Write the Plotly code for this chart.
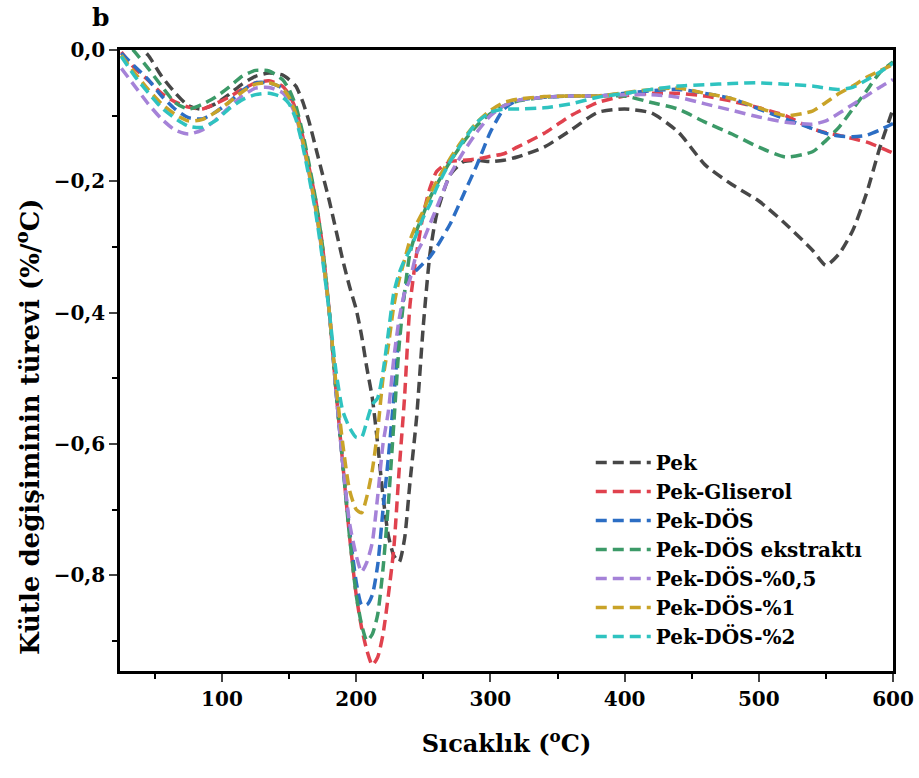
import plotly.graph_objects as go

temps = [25, 35, 45, 55, 65, 75, 85, 95, 105, 115, 125, 135, 145, 150, 155, 160, 165, 170,
         175, 180, 185, 190, 195, 200, 204, 208, 212, 216, 220, 224, 228, 232, 236, 240, 245,
         250, 255, 260, 270, 280, 290, 300, 310, 320, 340, 360, 380, 400, 420, 440, 460, 480,
         500, 520, 540, 550, 560, 570, 580, 590, 600]

pek = [0.03, 0.012, -0.008, -0.04, -0.065, -0.085, -0.09, -0.082, -0.068, -0.052, -0.04, -0.035,
       -0.038, -0.045, -0.055, -0.078, -0.11, -0.15, -0.19, -0.23, -0.275, -0.32, -0.36, -0.395,
       -0.435, -0.485, -0.53, -0.6, -0.68, -0.74, -0.77, -0.78, -0.745, -0.66, -0.56, -0.42, -0.31,
       -0.25, -0.19, -0.17, -0.168, -0.17, -0.168, -0.163, -0.148, -0.122, -0.095, -0.09, -0.096,
       -0.125, -0.175, -0.205, -0.23, -0.265, -0.305, -0.328, -0.31, -0.275, -0.22, -0.15, -0.09]

gliserol = [-0.003, -0.028, -0.046, -0.066, -0.079, -0.087, -0.09, -0.082, -0.072, -0.06, -0.05,
            -0.047, -0.055, -0.068, -0.09, -0.13, -0.18, -0.23, -0.3, -0.4, -0.52, -0.63, -0.74,
            -0.83, -0.88, -0.915, -0.937, -0.925, -0.89, -0.83, -0.76, -0.64, -0.53, -0.39, -0.31,
            -0.25, -0.21, -0.185, -0.17, -0.168, -0.166, -0.162, -0.158, -0.148, -0.127, -0.1,
            -0.08, -0.07, -0.066, -0.066, -0.07, -0.078, -0.088, -0.1, -0.12, -0.126, -0.13,
            -0.135, -0.14, -0.148, -0.157]

dos = [-0.005, -0.025, -0.045, -0.07, -0.09, -0.103, -0.105, -0.095, -0.08, -0.062, -0.05, -0.05,
       -0.058, -0.07, -0.095, -0.135, -0.185, -0.24, -0.31, -0.4, -0.52, -0.63, -0.73, -0.81,
       -0.845, -0.845, -0.83, -0.785, -0.7, -0.62, -0.53, -0.43, -0.37, -0.345, -0.335, -0.325,
       -0.315, -0.3, -0.265, -0.22, -0.175, -0.125, -0.09, -0.077, -0.072, -0.07, -0.07, -0.066,
       -0.062, -0.06, -0.066, -0.074, -0.09, -0.105, -0.12, -0.127, -0.131, -0.132, -0.13,
       -0.122, -0.112]

ekstrakt = [0.02, -0.003, -0.028, -0.055, -0.08, -0.09, -0.083, -0.072, -0.057, -0.04, -0.031,
            -0.032, -0.045, -0.06, -0.085, -0.125, -0.175, -0.23, -0.3, -0.4, -0.52, -0.63, -0.74,
            -0.83, -0.875, -0.9, -0.89, -0.86, -0.79, -0.69, -0.57, -0.45, -0.37, -0.31, -0.275,
            -0.25, -0.225, -0.205, -0.17, -0.14, -0.115, -0.097, -0.085, -0.078, -0.072, -0.07,
            -0.07, -0.07, -0.08, -0.09, -0.11, -0.128, -0.148, -0.163, -0.155, -0.138, -0.117,
            -0.09, -0.063, -0.035, -0.018]

dos_05 = [-0.028, -0.055, -0.082, -0.105, -0.122, -0.128, -0.122, -0.107, -0.088, -0.07, -0.058,
          -0.057, -0.065, -0.078, -0.1, -0.14, -0.19, -0.245, -0.315, -0.4, -0.52, -0.63, -0.72,
          -0.77, -0.795, -0.78, -0.75, -0.68, -0.6, -0.55, -0.47, -0.41, -0.37, -0.35, -0.31,
          -0.29, -0.265, -0.24, -0.19, -0.155, -0.125, -0.1, -0.085, -0.077, -0.072, -0.07, -0.07,
          -0.068, -0.068, -0.072, -0.082, -0.092, -0.102, -0.11, -0.113, -0.108, -0.096, -0.083,
          -0.07, -0.057, -0.045]

dos_1 = [-0.008, -0.035, -0.06, -0.082, -0.098, -0.108, -0.106, -0.095, -0.08, -0.064, -0.052,
         -0.05, -0.058, -0.072, -0.097, -0.137, -0.187, -0.243, -0.312, -0.4, -0.51, -0.6, -0.67,
         -0.7, -0.705, -0.68, -0.64, -0.58, -0.5, -0.45, -0.39, -0.35, -0.32, -0.29, -0.265,
         -0.245, -0.22, -0.2, -0.165, -0.135, -0.11, -0.092, -0.08, -0.075, -0.071, -0.07, -0.07,
         -0.065, -0.06, -0.058, -0.066, -0.074, -0.088, -0.1, -0.093, -0.08, -0.066, -0.055,
         -0.042, -0.032, -0.022]

dos_2 = [-0.01, -0.04, -0.065, -0.088, -0.104, -0.116, -0.118, -0.108, -0.09, -0.076, -0.068,
         -0.066, -0.072, -0.082, -0.105, -0.145, -0.195, -0.25, -0.32, -0.4, -0.49, -0.55, -0.575,
         -0.59, -0.59, -0.565, -0.54, -0.53, -0.49, -0.43, -0.37, -0.34, -0.32, -0.305, -0.28,
         -0.255, -0.235, -0.21, -0.17, -0.138, -0.11, -0.095, -0.09, -0.09, -0.088, -0.082,
         -0.072, -0.066, -0.06, -0.055, -0.053, -0.051, -0.05, -0.052, -0.055, -0.058, -0.06,
         -0.057, -0.046, -0.034, -0.02]

names = ["Pek", "Pek-Gliserol", "Pek-DÖS", "Pek-DÖS ekstraktı", "Pek-DÖS-%0,5", "Pek-DÖS-%1", "Pek-DÖS-%2"]
series = [pek, gliserol, dos, ekstrakt, dos_05, dos_1, dos_2]
colors = ["#474747", "#e0424e", "#2c6ec4", "#3c9a68", "#a582d8", "#c9a328", "#2fc3c0"]

x_ticks = [100, 200, 300, 400, 500, 600]
y_ticks = [0.0, -0.2, -0.4, -0.6, -0.8]

FONT = "DejaVu Serif, Liberation Serif, serif"
L, R, T, B = 120, 26, 50, 107
W, H = 919, 778
PW, PH = W - L - R, H - T - B


def px_to_paper(px, py):
    return (px - L) / PW, (H - B - py) / PH


fig = go.Figure()
for name, ys, col in zip(names, series, colors):
    fig.add_trace(go.Scatter(
        x=temps, y=ys, mode="lines", name=name,
        line=dict(color=col, width=3.5, dash="11px,6px", shape="spline", smoothing=0.6),
    ))

bx, by = px_to_paper(100, 18)
yx, yy = px_to_paper(28, 427)

fig.update_layout(
    width=W, height=H,
    margin=dict(l=L, r=R, t=T, b=B, autoexpand=False),
    plot_bgcolor="white", paper_bgcolor="white",
    separators=",.",
    font=dict(family=FONT, color="black"),
    legend=dict(
        x=0.609, y=0.367, xanchor="left", yanchor="top",
        bgcolor="rgba(0,0,0,0)",
        font=dict(family=FONT, size=20, color="black", weight="bold"),
        itemwidth=55, tracegroupgap=0,
    ),
    annotations=[
        dict(text="<b>b</b>", x=bx, y=by, xref="paper", yref="paper",
             xanchor="center", yanchor="middle", showarrow=False,
             font=dict(family=FONT, size=25, color="black")),
        dict(text="<b>Kütle değişiminin türevi (%/<sup>o</sup>C)</b>", x=yx, y=yy,
             xref="paper", yref="paper", xanchor="center", yanchor="middle",
             textangle=-90, showarrow=False,
             font=dict(family=FONT, size=26, color="black")),
    ],
)

fig.update_xaxes(
    range=[24, 600], tickvals=x_ticks, ticks="outside", ticklen=8, tickwidth=2,
    minor=dict(dtick=50, tick0=0, ticks="outside", ticklen=5, tickwidth=2, tickcolor="black"),
    showline=True, linewidth=2.5, linecolor="black", mirror=True,
    showgrid=False, zeroline=False, automargin=False,
    tickfont=dict(family=FONT, size=20, color="black", weight="bold"),
    title=dict(text="Sıcaklık (<sup>o</sup>C)", standoff=26,
               font=dict(family=FONT, size=24, color="black", weight="bold")),
)
fig.update_yaxes(
    range=[-0.946, 0], tickvals=y_ticks, tickformat=".1f", ticks="outside", ticklen=8, tickwidth=2,
    minor=dict(dtick=0.1, tick0=0, ticks="outside", ticklen=5, tickwidth=2, tickcolor="black"),
    showline=True, linewidth=2.5, linecolor="black", mirror=True,
    showgrid=False, zeroline=False, automargin=False,
    tickfont=dict(family=FONT, size=20, color="black", weight="bold"),
)

fig.write_html("out.html")
